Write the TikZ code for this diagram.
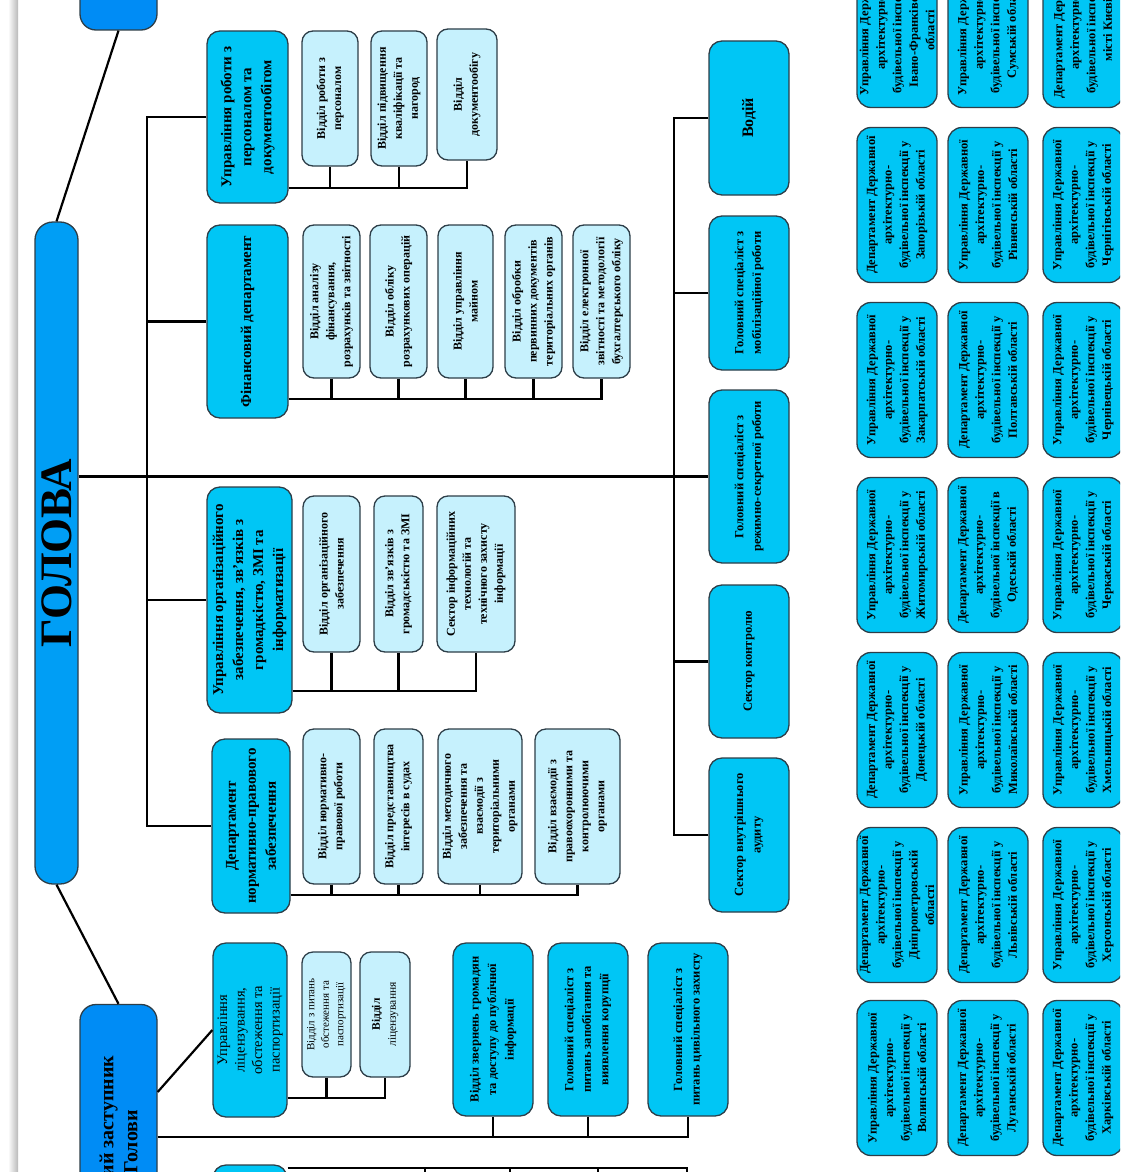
\documentclass[tikz,border=0pt]{standalone}
\usepackage{fontspec}
\setmainfont{Liberation Serif}
\definecolor{chiefblue}{RGB}{0,158,245}
\definecolor{deputyblue}{RGB}{0,140,245}
\definecolor{headcyan}{RGB}{0,198,245}
\definecolor{subcyan}{RGB}{198,241,253}
\definecolor{edge}{RGB}{45,62,72}
\tikzset{
  dims/.style 2 args={minimum width=#1pt, minimum height=#2pt},
  box/.style={draw=edge, line width=1.3pt, rotate=90, align=center, inner sep=2pt},
  chief/.style={box, fill=chiefblue, rounded corners=16pt},
  head/.style={box, fill=headcyan, rounded corners=13pt, font=\bfseries\fontsize{15}{20}\selectfont},
  unit/.style={box, fill=headcyan, rounded corners=13pt, font=\bfseries\fontsize{12.5}{17.5}\selectfont},
  region/.style={box, fill=headcyan, rounded corners=14pt, font=\bfseries\fontsize{12.5}{16.5}\selectfont},
  sub/.style={box, fill=subcyan, rounded corners=11pt, font=\bfseries\fontsize{12}{16}\selectfont},
  link/.style={line width=2.2pt}
}
\begin{document}
\begin{tikzpicture}[x=1pt,y=-1pt]
\useasboundingbox (0,0) rectangle (1120,1172);
\clip (0,0) rectangle (1120,1172);
\fill[white] (0,0) rectangle (1120,1172);
\shade[left color=white, right color=gray!55] (8,0) rectangle (18,1172);

% top level
\node[chief, fill=deputyblue, dims={90}{77}] (top) at (118.5,-15) {};
\node[chief, dims={662}{43}, rounded corners=18pt, font=\bfseries\fontsize{45}{45}\selectfont] (holova) at (56.5,553) {ГОЛОВА};
\node[chief, fill=deputyblue, dims={275}{77}, font=\bfseries\fontsize{20}{24}\selectfont] (zast) at (118.5,1142) {Перший заступник\\Голови};
\draw[link] (top.west) -- (holova.east);
\draw[link] (holova.west) -- (zast.east);

% departments of the head
\node[head, dims={172}{81}] (hr) at (247.5,117) {Управління роботи з\\персоналом та\\документообігом};
\node[head, dims={193}{81}] (fin) at (247.5,321.5) {Фінансовий департамент};
\node[head, dims={226}{85}] (org) at (249.5,600) {Управління організаційного\\забезпечення, зв’язків з\\громадкістю, ЗМІ та\\інформатизації};
\node[head, dims={174}{78}] (law) at (251,826) {Департамент\\нормативно-правового\\забезпечення};

\node[unit, dims={154}{80}, font=\bfseries\fontsize{16}{19}\selectfont] (driver) at (749,118) {Водій};
\node[unit, dims={154}{80}] (mob) at (749,293) {Головний спеціаліст з\\мобілізаційної роботи};
\node[unit, dims={173}{80}] (sec) at (749,476.5) {Головний спеціаліст з\\режимно-секретної роботи};
\node[unit, dims={153}{80}] (ctrl) at (749,661.5) {Сектор контролю};
\node[unit, dims={154}{80}] (audit) at (749,835) {Сектор внутрішнього\\аудиту};

\coordinate (ltrunk) at (147,0);
\coordinate (rtrunk) at (674,0);
\draw[link] (holova.south |- sec) -- (sec.north);
\draw[link] (hr.north) -- (hr.north -| ltrunk) -- (law.north -| ltrunk) -- (law.north);
\draw[link] (fin.north) -- (fin.north -| ltrunk);
\draw[link] (org.north) -- (org.north -| ltrunk);
\draw[link] (driver.north) -- (driver.north -| rtrunk) -- (audit.north -| rtrunk) -- (audit.north);
\draw[link] (mob.north) -- (mob.north -| rtrunk);
\draw[link] (ctrl.north) -- (ctrl.north -| rtrunk);

% personnel
\node[sub, dims={135}{56}] (hr1) at (330,98.5) {Відділ роботи з\\персоналом};
\node[sub, dims={135}{56}] (hr2) at (399,98.5) {Відділ підвищення\\кваліфікації та\\нагород};
\node[sub, dims={131}{60}] (hr3) at (467,94.5) {Відділ\\документообігу};
\coordinate (hrb) at (0,188);
\draw[link] (hr.south |- hrb) -- (hr3.west |- hrb) -- (hr3.west);
\draw[link] (hr1.west) -- (hr1.west |- hrb);
\draw[link] (hr2.west) -- (hr2.west |- hrb);

% finance
\node[sub, dims={153}{57}] (fin1) at (331.5,301.5) {Відділ аналізу\\фінансування,\\розрахунків та звітності};
\node[sub, dims={153}{57}] (fin2) at (398.5,301.5) {Відділ обліку\\розрахункових операцій};
\node[sub, dims={153}{55}] (fin3) at (465.5,301.5) {Відділ управління\\майном};
\node[sub, dims={153}{57}] (fin4) at (533.5,301.5) {Відділ обробки\\первинних документів\\територіальних органів};
\node[sub, dims={153}{57}] (fin5) at (601.5,301.5) {Відділ електронної\\звітності та методології\\бухгалтерського обліку};
\coordinate (finb) at (0,399);
\draw[link] (fin.south |- finb) -- (fin5.west |- finb) -- (fin5.west);
\draw[link] (fin1.west) -- (fin1.west |- finb);
\draw[link] (fin2.west) -- (fin2.west |- finb);
\draw[link] (fin3.west) -- (fin3.west |- finb);
\draw[link] (fin4.west) -- (fin4.west |- finb);

% organisation
\node[sub, dims={156}{57}] (org1) at (331.5,574) {Відділ організаційного\\забезпечення};
\node[sub, dims={156}{49}] (org2) at (398.5,574) {Відділ зв’язків з\\громадськістю та ЗМІ};
\node[sub, dims={156}{78}] (org3) at (476,574) {Сектор інформаційних\\технологій та\\технічного захисту\\інформації};
\coordinate (orgb) at (0,691);
\draw[link] (org.south |- orgb) -- (org3.west |- orgb) -- (org3.west);
\draw[link] (org1.west) -- (org1.west |- orgb);
\draw[link] (org2.west) -- (org2.west |- orgb);

% legal
\node[sub, dims={155}{57}] (law1) at (331.5,806.5) {Відділ нормативно-\\правової роботи};
\node[sub, dims={155}{49}] (law2) at (398.5,806.5) {Відділ представництва\\інтересів в судах};
\node[sub, dims={155}{84}] (law3) at (480,806.5) {Відділ методичного\\забезпечення та\\взаємодії з\\територіальними\\органами};
\node[sub, dims={155}{85}] (law4) at (577.5,806.5) {Відділ взаємодії з\\правоохоронними та\\контролюючими\\органами};
\coordinate (lawb) at (0,895);
\draw[link] (law.south |- lawb) -- (law4.west |- lawb) -- (law4.west);
\draw[link] (law1.west) -- (law1.west |- lawb);
\draw[link] (law2.west) -- (law2.west |- lawb);
\draw[link] (law3.west) -- (law3.west |- lawb);

% first deputy
\node[head, dims={174}{74}, font=\fontsize{14.5}{17.5}\selectfont] (lic) at (250,1030) {Управління\\ліцензування,\\обстеження та\\паспортизації};
\node[sub, dims={125}{49}, font=\fontsize{11}{14.5}\selectfont] (lic1) at (326.5,1014.5) {Відділ з питань\\обстеження та\\паспортизації};
\node[sub, dims={125}{50}, font=\fontsize{11.5}{16}\selectfont] (lic2) at (385,1014.5) {\textbf{Відділ}\\ліцензування};
\draw[link] ([yshift=50pt]zast.south) -- (lic.north);
\coordinate (licb) at (0,1098);
\draw[link] (lic.south |- licb) -- (lic2.west |- licb) -- (lic2.west);
\draw[link] (lic1.west) -- (lic1.west |- licb);

\node[unit, dims={173}{80}] (zgr) at (493,1029.5) {Відділ звернень громадян\\та доступу до публічної\\інформації};
\node[unit, dims={173}{80}] (zcor) at (588,1029.5) {Головний спеціаліст з\\питань запобігання та\\виявлення корупції};
\node[unit, dims={173}{80}] (zciv) at (688,1029.5) {Головний спеціаліст з\\питань цивільного захисту};
\coordinate (zb) at (0,1137);
\draw[link] (zast.south |- zb) -- (zciv.west |- zb) -- (zciv.west);
\draw[link] (zgr.west) -- (zgr.west |- zb);
\draw[link] (zcor.west) -- (zcor.west |- zb);

\node[head, dims={140}{74}] (next) at (250,1235) {};
\coordinate (nb) at (0,1168);
\coordinate (n1) at (425,1180);
\coordinate (n2) at (510,1180);
\coordinate (n3) at (598,1180);
\coordinate (n4) at (687,1180);
\draw[link] (next.south |- nb) -- (n4 |- nb) -- (n4);
\draw[link] (n1 |- nb) -- (n1);
\draw[link] (n2 |- nb) -- (n2);
\draw[link] (n3 |- nb) -- (n3);

% regional inspections
\node[region, dims={155}{80}] (r11) at (897,30) {Управління Державної\\архітектурно-\\будівельної інспекції у\\Івано-Франківській\\області};
\node[region, dims={155}{80}] (r12) at (897,205) {Департамент Державної\\архітектурно-\\будівельної інспекції у\\Запорізькій області};
\node[region, dims={155}{80}] (r13) at (897,380) {Управління Державної\\архітектурно-\\будівельної інспекції у\\Закарпатській області};
\node[region, dims={155}{80}] (r14) at (897,555) {Управління Державної\\архітектурно-\\будівельної інспекції у\\Житомирській області};
\node[region, dims={155}{80}] (r15) at (897,730) {Департамент Державної\\архітектурно-\\будівельної інспекції у\\Донецькій області};
\node[region, dims={155}{80}] (r16) at (897,905) {Департамент Державної\\архітектурно-\\будівельної інспекції у\\Дніпропетровській\\області};
\node[region, dims={155}{80}] (r17) at (897,1078) {Управління Державної\\архітектурно-\\будівельної інспекції у\\Волинській області};

\node[region, dims={155}{80}] (r21) at (988,30) {Управління Державної\\архітектурно-\\будівельної інспекції у\\Сумській області};
\node[region, dims={155}{80}] (r22) at (988,205) {Управління Державної\\архітектурно-\\будівельної інспекції у\\Рівненській області};
\node[region, dims={155}{80}] (r23) at (988,380) {Департамент Державної\\архітектурно-\\будівельної інспекції у\\Полтавській області};
\node[region, dims={155}{80}] (r24) at (988,555) {Департамент Державної\\архітектурно-\\будівельної інспекції в\\Одеській області};
\node[region, dims={155}{80}] (r25) at (988,730) {Управління Державної\\архітектурно-\\будівельної інспекції у\\Миколаївській області};
\node[region, dims={155}{80}] (r26) at (988,905) {Департамент Державної\\архітектурно-\\будівельної інспекції у\\Львівській області};
\node[region, dims={155}{80}] (r27) at (988,1078) {Департамент Державної\\архітектурно-\\будівельної інспекції у\\Луганській області};

\node[region, dims={155}{80}] (r31) at (1083,30) {Департамент Державної\\архітектурно-\\будівельної інспекції у\\місті Києві};
\node[region, dims={155}{80}] (r32) at (1083,205) {Управління Державної\\архітектурно-\\будівельної інспекції у\\Чернігівській області};
\node[region, dims={155}{80}] (r33) at (1083,380) {Управління Державної\\архітектурно-\\будівельної інспекції у\\Чернівецькій області};
\node[region, dims={155}{80}] (r34) at (1083,555) {Управління Державної\\архітектурно-\\будівельної інспекції у\\Черкаській області};
\node[region, dims={155}{80}] (r35) at (1083,730) {Управління Державної\\архітектурно-\\будівельної інспекції у\\Хмельницькій області};
\node[region, dims={155}{80}] (r36) at (1083,905) {Управління Державної\\архітектурно-\\будівельної інспекції у\\Херсонській області};
\node[region, dims={155}{80}] (r37) at (1083,1078) {Департамент Державної\\архітектурно-\\будівельної інспекції у\\Харківській області};
\end{tikzpicture}
\end{document}
